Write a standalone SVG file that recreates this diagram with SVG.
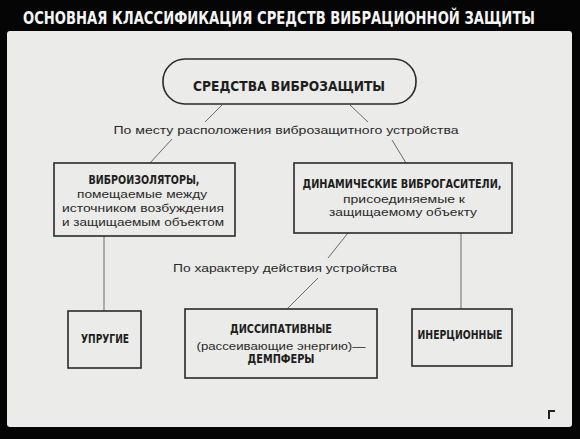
<svg xmlns="http://www.w3.org/2000/svg" width="580" height="439" viewBox="0 0 580 439">
<style>
.cap{font-family:"DejaVu Sans Condensed","Liberation Sans",sans-serif;font-weight:bold;fill:#1e1e1e}
.low{font-family:"Liberation Sans","DejaVu Sans",sans-serif;fill:#2a2a2a}
.box{fill:none;stroke:#2a2a2a;stroke-width:1.6}
.ln{stroke:#6a6a6a;stroke-width:1;fill:none}
</style>
<rect x="0" y="0" width="580" height="439" fill="#050505"/>
<rect x="7" y="31" width="565" height="396" rx="3" fill="#ebebe9"/>
<text x="279" y="24" text-anchor="middle" font-size="17" fill="#f4f4f4" font-family="DejaVu Sans Condensed,Liberation Sans,sans-serif" font-weight="bold" textLength="512" lengthAdjust="spacingAndGlyphs">ОСНОВНАЯ КЛАССИФИКАЦИЯ СРЕДСТВ ВИБРАЦИОННОЙ ЗАЩИТЫ</text>
<g id="connectors">
<path class="ln" d="M222,105 L205,122 M172,139 L150,163"/>
<path class="ln" d="M350,105 L368,122 M392,140 L406,163"/>
<path class="ln" d="M104,236 L104,311"/>
<path class="ln" d="M461,233 L461,309"/>
<path class="ln" d="M348,233 L328,258 M318,278 L287,309"/>
<text class="low" x="286" y="134" text-anchor="middle" font-size="11" textLength="345" lengthAdjust="spacingAndGlyphs">По месту расположения виброзащитного устройства</text>
<text class="low" x="285" y="272" text-anchor="middle" font-size="11" textLength="224" lengthAdjust="spacingAndGlyphs">По характеру действия устройства</text>
</g>
<g id="root">
<rect class="box" x="163" y="59" width="253" height="45" rx="22"/>
<text class="cap" x="289" y="91" text-anchor="middle" font-size="14" textLength="192" lengthAdjust="spacingAndGlyphs">СРЕДСТВА ВИБРОЗАЩИТЫ</text>
</g>
<g id="isolators">
<rect class="box" x="54" y="163" width="181" height="73"/>
<text class="cap" x="144" y="184" text-anchor="middle" font-size="12" textLength="111" lengthAdjust="spacingAndGlyphs">ВИБРОИЗОЛЯТОРЫ,</text>
<text class="low" x="142" y="198" text-anchor="middle" font-size="11" textLength="130" lengthAdjust="spacingAndGlyphs">помещаемые между</text>
<text class="low" x="143" y="212" text-anchor="middle" font-size="11" textLength="162" lengthAdjust="spacingAndGlyphs">источником возбуждения</text>
<text class="low" x="143" y="226" text-anchor="middle" font-size="11" textLength="162" lengthAdjust="spacingAndGlyphs">и защищаемым объектом</text>
</g>
<g id="absorbers">
<rect class="box" x="294" y="163" width="218" height="70"/>
<text class="cap" x="402" y="188" text-anchor="middle" font-size="12" textLength="199" lengthAdjust="spacingAndGlyphs">ДИНАМИЧЕСКИЕ ВИБРОГАСИТЕЛИ,</text>
<text class="low" x="404" y="203" text-anchor="middle" font-size="11" textLength="122" lengthAdjust="spacingAndGlyphs">присоединяемые к</text>
<text class="low" x="403" y="216" text-anchor="middle" font-size="11" textLength="148" lengthAdjust="spacingAndGlyphs">защищаемому объекту</text>
</g>
<g id="elastic">
<rect class="box" x="68" y="311" width="73" height="57"/>
<text class="cap" x="105" y="343" text-anchor="middle" font-size="12" textLength="48" lengthAdjust="spacingAndGlyphs">УПРУГИЕ</text>
</g>
<g id="dissipative">
<rect class="box" x="185" y="309" width="192" height="69"/>
<text class="cap" x="281" y="333" text-anchor="middle" font-size="12" textLength="102" lengthAdjust="spacingAndGlyphs">ДИССИПАТИВНЫЕ</text>
<text class="low" x="281" y="350" text-anchor="middle" font-size="11" textLength="169" lengthAdjust="spacingAndGlyphs">(рассеивающие энергию)—</text>
<text class="cap" x="281" y="363" text-anchor="middle" font-size="12" textLength="67" lengthAdjust="spacingAndGlyphs">ДЕМПФЕРЫ</text>
</g>
<g id="inertial">
<rect class="box" x="412" y="309" width="100" height="57"/>
<text class="cap" x="460" y="339" text-anchor="middle" font-size="12" textLength="85" lengthAdjust="spacingAndGlyphs">ИНЕРЦИОННЫЕ</text>
</g>
<path d="M548,410 h7 v2 h-5 v7 h-2 z" fill="#222"/>
</svg>
